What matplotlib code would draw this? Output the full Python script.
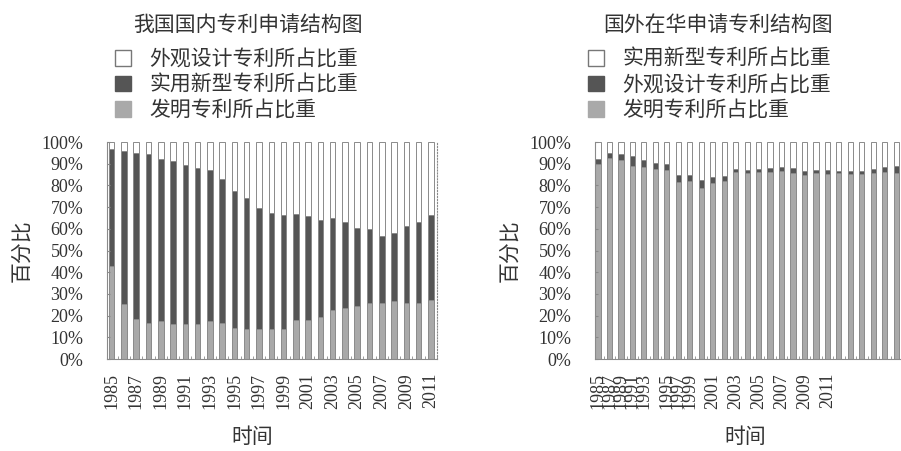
import matplotlib.pyplot as plt
from matplotlib.patches import Patch
import numpy as np

plt.rcParams['font.family'] = ['Liberation Serif', 'Noto Sans CJK SC']

years = list(range(1985, 2012))
tick_years = [str(y) for y in range(1985, 2012, 2)]

# 我国国内专利申请结构 (%)
dom_invention = [43.0, 25.4, 18.4, 16.8, 17.5, 16.1, 16.1, 16.1, 17.6, 16.5, 14.1, 13.8, 13.9, 13.9,
                 13.9, 17.8, 17.9, 19.3, 22.4, 23.4, 24.3, 25.9, 25.9, 26.6, 25.9, 26.0, 27.0]
dom_utility = [54.0, 70.3, 76.7, 77.7, 74.8, 75.0, 73.2, 72.0, 69.4, 66.5, 63.5, 60.2, 55.5, 53.3,
               52.3, 49.0, 47.8, 44.7, 42.8, 39.8, 36.0, 34.0, 30.8, 31.6, 35.2, 37.2, 39.2]
dom_design = [3.0, 4.3, 4.9, 5.5, 7.7, 8.9, 10.7, 11.9, 13.0, 17.0, 22.4, 26.0, 30.6, 32.8,
              33.8, 33.2, 34.3, 36.0, 34.8, 36.8, 39.7, 40.1, 43.3, 41.8, 38.9, 36.8, 33.8]

# 国外在华申请专利结构 (%)
for_invention = [90.0, 92.8, 91.9, 89.1, 88.5, 87.6, 87.0, 81.6, 82.1, 78.6, 81.2, 82.1, 86.1, 85.8,
                 86.1, 86.4, 86.7, 85.8, 84.8, 85.8, 85.3, 85.5, 85.3, 85.1, 85.8, 86.4, 85.8]
for_design = [2.3, 2.3, 2.6, 4.3, 3.1, 2.9, 3.0, 3.4, 2.9, 3.8, 2.7, 2.1, 1.3, 1.2,
              1.6, 1.7, 1.8, 2.3, 2.0, 1.5, 1.8, 1.3, 1.4, 1.6, 1.9, 2.1, 3.0]
for_utility = [7.7, 4.9, 5.5, 6.6, 8.4, 9.5, 10.0, 15.0, 15.0, 17.6, 16.1, 15.8, 12.6, 13.0,
               12.3, 11.9, 11.5, 11.9, 13.2, 12.7, 12.9, 13.2, 13.3, 13.3, 12.3, 11.5, 11.2]

# 右图的年份标签在原图中排得不均匀
left_tick_idx = list(range(0, 27, 2))
right_tick_idx = [0, 1, 2, 3, 4, 6, 7, 8, 10, 12, 14, 16, 18, 20]

c_gray = '#a9a9a9'
c_dark = '#555555'
c_edge = '#8a8a8a'
c_text = '#333333'
cjk = ['Noto Sans CJK SC', 'DejaVu Sans']

fig = plt.figure(figsize=(9.01, 4.51), dpi=100)
ax1 = fig.add_axes([107 / 901, 92 / 451, 330 / 901, 217 / 451])
ax2 = fig.add_axes([595 / 901, 92 / 451, 307 / 901, 217 / 451])


def draw(ax, bottom, middle, top, tick_idx, x_lo):
    x = np.arange(len(years))
    w = 0.45
    b = np.array(bottom)
    m = np.array(middle)
    t = np.array(top)
    ax.bar(x, b, w, color=c_gray, edgecolor=c_edge, linewidth=0.7)
    ax.bar(x, m, w, bottom=b, color=c_dark, edgecolor=c_edge, linewidth=0.7)
    ax.bar(x, t, w, bottom=b + m, color='white', edgecolor=c_edge, linewidth=0.7)
    ax.set_xlim(x_lo, 26.5)
    ax.set_ylim(0, 100)
    ax.set_yticks(np.arange(0, 101, 10))
    ax.set_yticklabels([f'{v}%' for v in range(0, 101, 10)], fontsize=13, color=c_text)
    ax.set_xticks(tick_idx)
    ax.set_xticklabels(tick_years, rotation=90, fontsize=13, color=c_text)
    ax.set_xticks(np.arange(len(years)) + 0.5, minor=True)
    ax.tick_params(axis='y', length=2, direction='in', pad=17, color=c_edge)
    ax.tick_params(axis='x', which='major', length=0, pad=10)
    ax.tick_params(axis='x', which='minor', length=2, direction='in', color=c_edge)
    ax.spines['top'].set_visible(False)
    ax.spines['right'].set_linestyle(':')
    for s in ['left', 'bottom', 'right']:
        ax.spines[s].set_color(c_edge)
        ax.spines[s].set_linewidth(0.8)
    ax.set_ylabel('百分比', family=cjk, fontsize=15, color=c_text)
    ax.set_xlabel('时间', family=cjk, fontsize=15, color=c_text)


draw(ax1, dom_invention, dom_utility, dom_design, left_tick_idx, -0.38)
draw(ax2, for_invention, for_design, for_utility, right_tick_idx, -0.26)
ax1.yaxis.set_label_coords(-0.227, 0.5)
ax2.yaxis.set_label_coords(-0.244, 0.5)
ax1.xaxis.set_label_coords(0.44, -0.31)
ax2.xaxis.set_label_coords(0.49, -0.31)


def legend(x_title, x_box, title, labels):
    fig.text(x_title / 901, 1 - 25 / 451, title, family=cjk, fontsize=15, color=c_text, va='center')
    handles = [Patch(facecolor='white', edgecolor='#777777'),
               Patch(facecolor=c_dark, edgecolor=c_dark),
               Patch(facecolor=c_gray, edgecolor=c_gray)]
    fig.legend(handles, labels, loc='upper left', bbox_to_anchor=(x_box / 901, 1 - 48 / 451),
               frameon=False, prop={'family': cjk, 'size': 15}, labelcolor=c_text,
               handlelength=0.77, handleheight=0.77, handletextpad=0.87, labelspacing=0.17,
               borderpad=0, borderaxespad=0)


legend(133, 115, '我国国内专利申请结构图', ['外观设计专利所占比重', '实用新型专利所占比重', '发明专利所占比重'])
legend(603, 588, '国外在华申请专利结构图', ['实用新型专利所占比重', '外观设计专利所占比重', '发明专利所占比重'])

fig.savefig('out.png', dpi=100)
